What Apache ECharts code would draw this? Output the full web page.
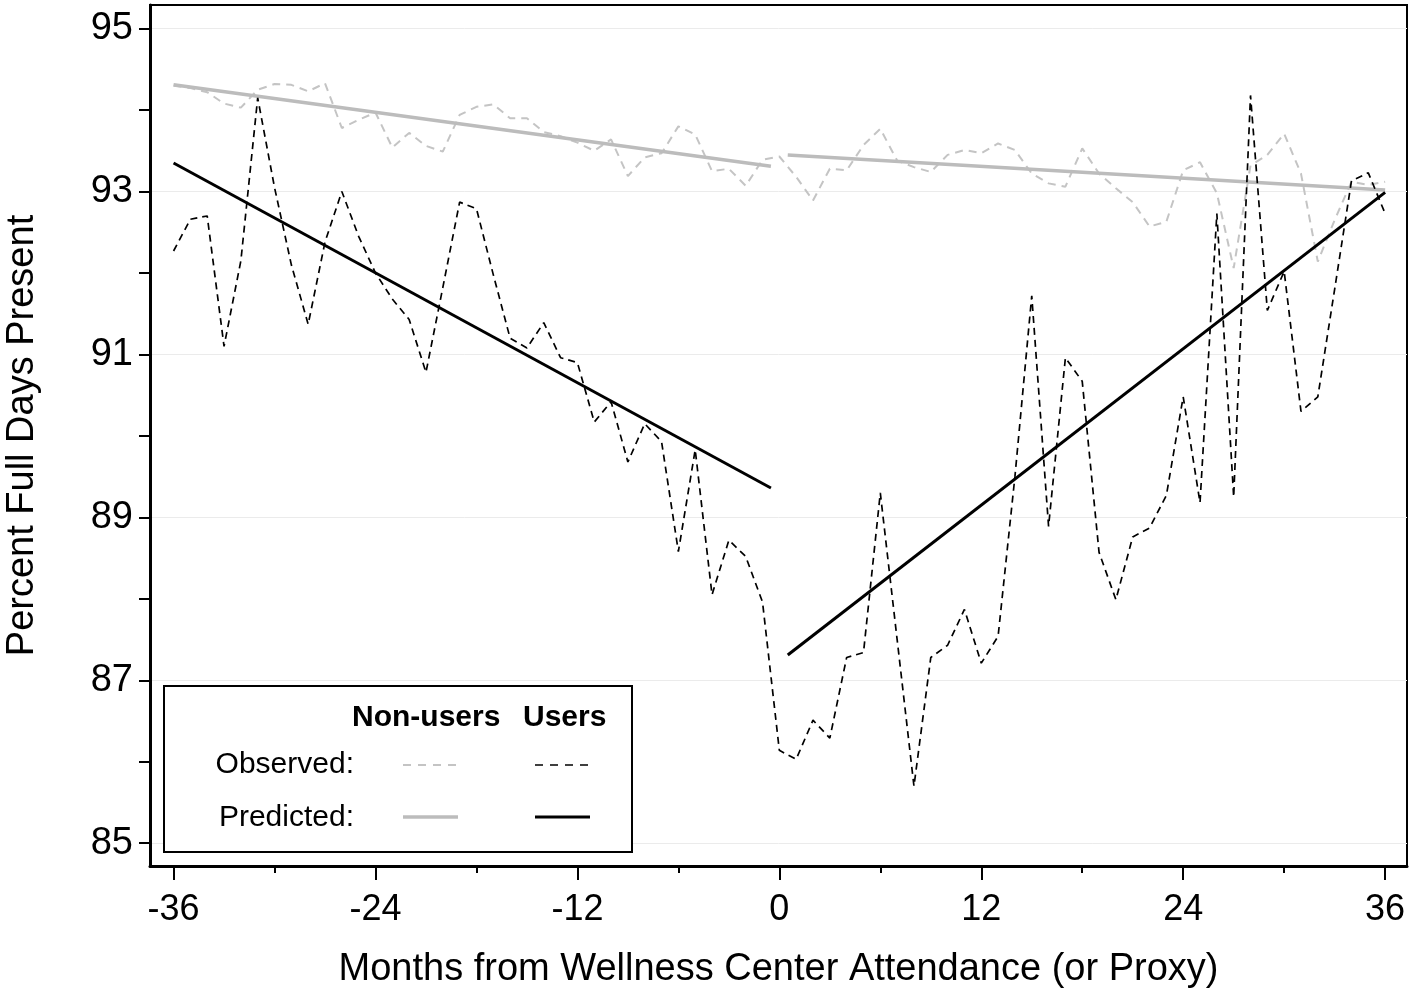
<!DOCTYPE html>
<html><head><meta charset="utf-8">
<script src="https://cdn.jsdelivr.net/npm/echarts@6/dist/echarts.min.js"></script>
<style>html,body{margin:0;padding:0;background:#fff}#c{width:1409px;height:990px}</style>
</head><body><div id="c"></div>
<script>
const months = [-36,-35,-34,-33,-32,-31,-30,-29,-28,-27,-26,-25,-24,-23,-22,-21,-20,-19,-18,-17,-16,-15,-14,-13,-12,-11,-10,-9,-8,-7,-6,-5,-4,-3,-2,-1,
  0,1,2,3,4,5,6,7,8,9,10,11,12,13,14,15,16,17,18,19,20,21,22,23,24,25,26,27,28,29,30,31,32,33,34,35,36];
const usersObserved = [92.27,92.66,92.70,91.10,92.15,94.15,93.05,92.10,91.37,92.38,93.00,92.45,92.00,91.68,91.43,90.78,91.82,92.87,92.79,91.98,91.20,91.08,91.39,90.96,90.90,90.17,90.42,89.68,90.15,89.93,88.58,89.83,88.05,88.72,88.52,87.96,
  86.14,86.03,86.51,86.29,87.28,87.34,89.30,87.50,85.70,87.28,87.43,87.87,87.21,87.54,89.50,91.72,88.89,90.96,90.67,88.57,87.99,88.76,88.87,89.27,90.48,89.18,92.73,89.25,94.18,91.54,92.02,90.30,90.48,91.80,93.13,93.23,92.73];
const nonUsersObserved = [94.30,94.27,94.22,94.08,94.03,94.25,94.32,94.31,94.23,94.33,93.78,93.88,93.97,93.54,93.72,93.56,93.49,93.94,94.04,94.07,93.90,93.90,93.73,93.68,93.60,93.50,93.64,93.19,93.42,93.47,93.80,93.70,93.25,93.28,93.07,93.39,
  93.43,93.18,92.89,93.28,93.26,93.57,93.77,93.38,93.30,93.24,93.45,93.51,93.47,93.59,93.51,93.22,93.10,93.06,93.53,93.22,93.04,92.87,92.57,92.63,93.26,93.36,92.98,92.06,93.32,93.45,93.71,93.22,92.14,92.65,93.12,93.08,93.12];
const predMonthsPre = [-36, -0.5];
const predMonthsPost = [0.5, 36];
const usersPredPre = [93.35, 89.36];
const usersPredPost = [87.31, 92.99];
const nonUsersPredPre = [94.31, 93.31];
const nonUsersPredPost = [93.45, 93.02];
const xMajorTicks = [-36,-24,-12,0,12,24,36];
const xMinorTicks = [-30,-18,-6,6,18,30];
const yLabelTicks = [85,87,89,91,93,95];
const yMinorTicks = [86,88,90,92,94];
const xTitle = 'Months from Wellness Center Attendance (or Proxy)';
const yTitle = 'Percent Full Days Present';
const legendCols = ['Non-users', 'Users'];
const legendRows = ['Observed:', 'Predicted:'];

const X_MIN = -37.4, X_MAX = 37.3, Y_MIN = 84.72, Y_MAX = 95.29;
const FONT = 'Liberation Sans, Arial, Helvetica, sans-serif';
const GRAY_OBS = '#c4c4c4', GRAY_PRED = '#bcbcbc';

const pairs = (xs, ys) => xs.map((x, i) => [x, ys[i]]);

const chart = echarts.init(document.getElementById('c'), null, {renderer: 'canvas'});
const lineSeries = (name, xs, ys, color, width, dash, z) => ({
  name, type: 'line', xAxisIndex: 0, yAxisIndex: 0,
  data: pairs(xs, ys), showSymbol: false, symbol: 'none', z,
  lineStyle: {color, width, type: dash}, emphasis: {disabled: true}, silent: true
});

chart.setOption({
  animation: false,
  backgroundColor: '#fff',
  grid: {left: 150, right: 2, top: 5, bottom: 124, containLabel: false, outerBoundsMode: 'none',
         show: true, borderColor: '#000', borderWidth: 2, backgroundColor: '#fff'},
  xAxis: [
    {type: 'value', min: X_MIN, max: X_MAX, position: 'bottom',
     axisLine: {show: true, onZero: false, lineStyle: {color: '#000', width: 3}},
     axisTick: {show: true, customValues: xMajorTicks, length: 14, lineStyle: {color: '#000', width: 2}},
     axisLabel: {show: true, customValues: xMajorTicks, margin: 26, fontSize: 36, color: '#000', fontFamily: FONT},
     splitLine: {show: false},
     name: xTitle, nameLocation: 'middle', nameGap: 85,
     nameTextStyle: {fontSize: 38, color: '#000', fontFamily: FONT}},
    {type: 'value', min: X_MIN, max: X_MAX, position: 'bottom',
     axisLine: {show: false, onZero: false},
     axisTick: {show: true, customValues: xMinorTicks, length: 7, lineStyle: {color: '#000', width: 2}},
     axisLabel: {show: false}, splitLine: {show: false}}
  ],
  yAxis: [
    {type: 'value', min: Y_MIN, max: Y_MAX, position: 'left',
     axisLine: {show: true, onZero: false, lineStyle: {color: '#000', width: 3}},
     axisTick: {show: true, customValues: yLabelTicks, length: 11, lineStyle: {color: '#000', width: 2}},
     axisLabel: {show: true, customValues: yLabelTicks, margin: 17, fontSize: 38, color: '#000', fontFamily: FONT},
     splitLine: {show: true, lineStyle: {color: '#ebebeb', width: 1}},
     name: yTitle, nameLocation: 'middle', nameGap: 108, nameRotate: 90,
     nameTextStyle: {fontSize: 38, color: '#000', fontFamily: FONT}},
    {type: 'value', min: Y_MIN, max: Y_MAX, position: 'left',
     axisLine: {show: false, onZero: false},
     axisTick: {show: true, customValues: yMinorTicks, length: 11, lineStyle: {color: '#000', width: 2}},
     axisLabel: {show: false}, splitLine: {show: false}}
  ],
  series: [
    lineSeries('Non-users observed', months, nonUsersObserved, GRAY_OBS, 2, [8, 6], 2),
    lineSeries('Non-users predicted pre', predMonthsPre, nonUsersPredPre, GRAY_PRED, 3.5, 'solid', 3),
    lineSeries('Non-users predicted post', predMonthsPost, nonUsersPredPost, GRAY_PRED, 3.5, 'solid', 3),
    lineSeries('Users observed', months, usersObserved, '#000', 1.7, [7, 5], 4),
    lineSeries('Users predicted pre', predMonthsPre, usersPredPre, '#000', 3, 'solid', 5),
    lineSeries('Users predicted post', predMonthsPost, usersPredPost, '#000', 3, 'solid', 5)
  ],
  graphic: [
    {type: 'rect', z: 100, shape: {x: 164, y: 686, width: 468, height: 166},
     style: {fill: '#fff', stroke: '#000', lineWidth: 2}},
    {type: 'text', z: 101, style: {text: legendCols[0], x: 352, y: 718, font: 'bold 30px ' + FONT, fill: '#000', textAlign: 'left', textVerticalAlign: 'middle', align: 'left', verticalAlign: 'middle'}},
    {type: 'text', z: 101, style: {text: legendCols[1], x: 523, y: 718, font: 'bold 30px ' + FONT, fill: '#000', textAlign: 'left', textVerticalAlign: 'middle', align: 'left', verticalAlign: 'middle'}},
    {type: 'text', z: 101, style: {text: legendRows[0], x: 354, y: 765, font: '30px ' + FONT, fill: '#000', textAlign: 'right', textVerticalAlign: 'middle', align: 'right', verticalAlign: 'middle'}},
    {type: 'text', z: 101, style: {text: legendRows[1], x: 354, y: 818, font: '30px ' + FONT, fill: '#000', textAlign: 'right', textVerticalAlign: 'middle', align: 'right', verticalAlign: 'middle'}},
    {type: 'line', z: 101, shape: {x1: 403, y1: 765, x2: 458, y2: 765}, style: {stroke: GRAY_OBS, lineWidth: 2, lineDash: [8, 7]}},
    {type: 'line', z: 101, shape: {x1: 535, y1: 765, x2: 590, y2: 765}, style: {stroke: '#000', lineWidth: 1.7, lineDash: [8, 7]}},
    {type: 'line', z: 101, shape: {x1: 403, y1: 817, x2: 458, y2: 817}, style: {stroke: GRAY_PRED, lineWidth: 3.5}},
    {type: 'line', z: 101, shape: {x1: 535, y1: 817, x2: 590, y2: 817}, style: {stroke: '#000', lineWidth: 3}}
  ]
});
</script></body></html>
